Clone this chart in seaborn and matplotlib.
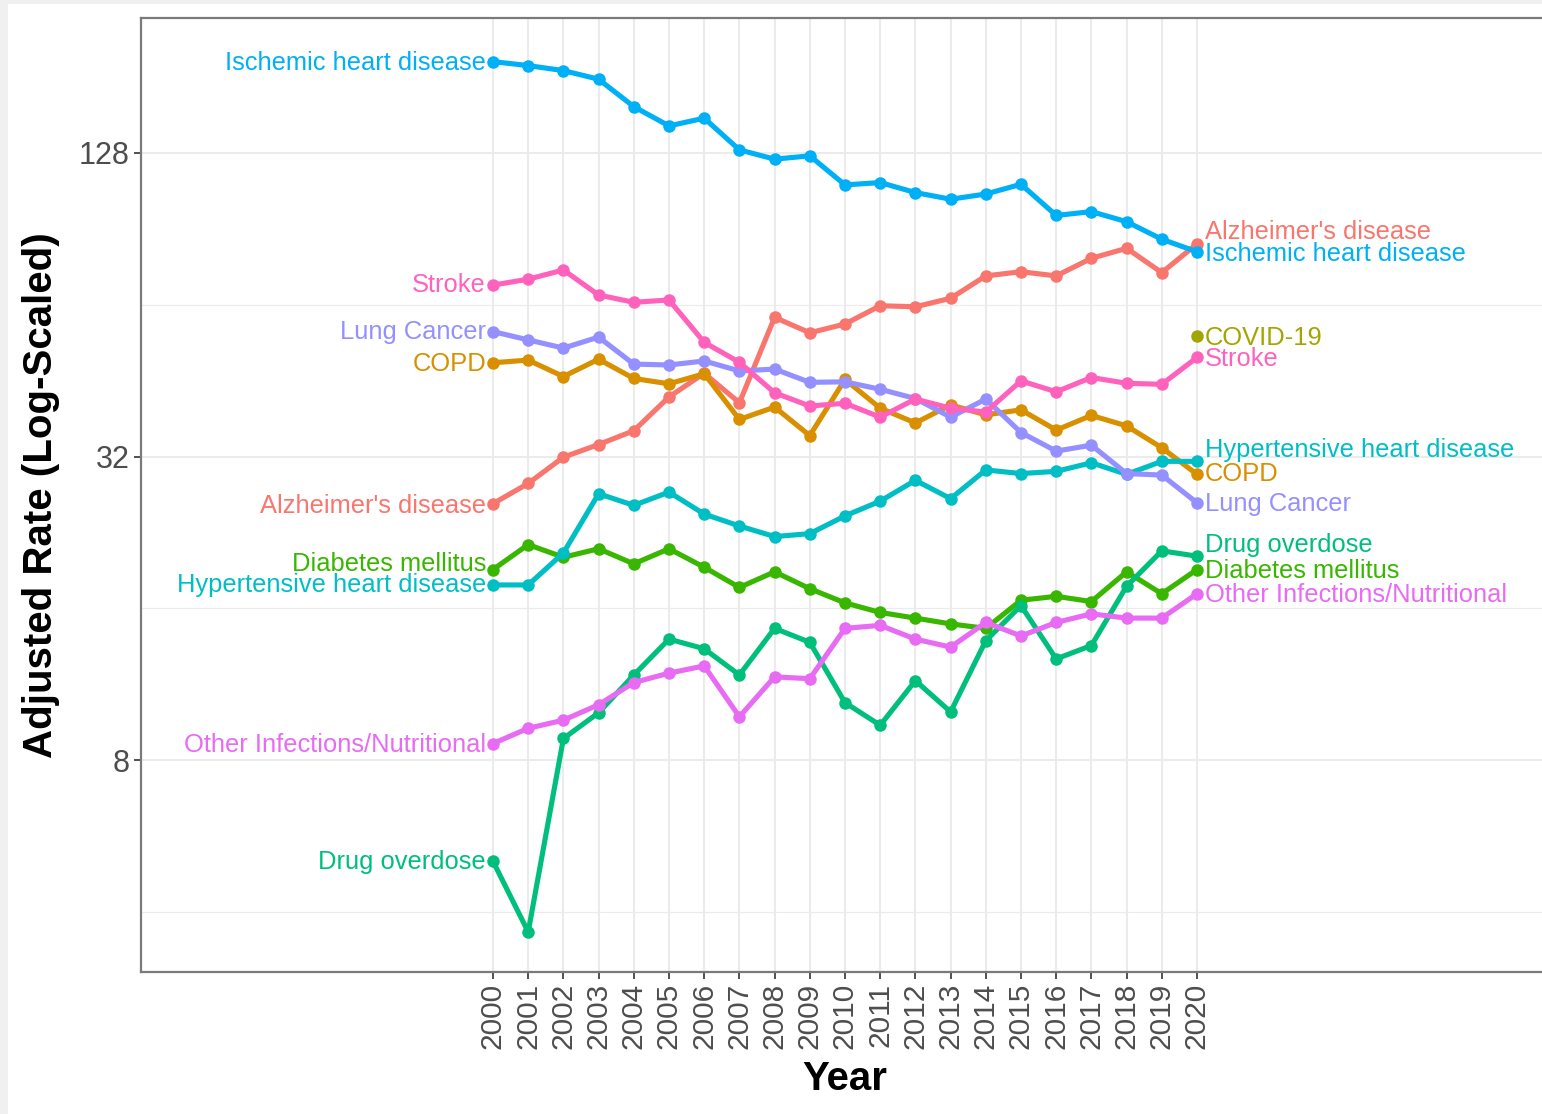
import numpy as np
import pandas as pd
import matplotlib
matplotlib.use("Agg")
import matplotlib.pyplot as plt
from matplotlib.patches import Rectangle
from matplotlib.ticker import FixedLocator, NullFormatter
import seaborn as sns

# 1) Data (age-adjusted rates read off the chart)
years = list(range(2000, 2021))

ischemic = [194.2, 190.7, 186.4, 179.2, 158.1, 144.8, 150.0, 129.8, 124.4, 126.3, 110.6,
            111.8, 106.8, 103.6, 106.1, 110.9, 96.2, 97.9, 93.5, 86.3, 81.5]
alzheimers = [25.8, 28.3, 31.9, 33.8, 36.0, 42.0, 46.8, 40.9, 60.4, 56.3, 58.6,
              63.7, 63.4, 65.9, 73.0, 74.4, 73.0, 79.1, 82.8, 74.1, 84.5]
stroke = [70.0, 71.9, 75.0, 66.9, 64.7, 65.4, 53.9, 49.2, 42.8, 40.3, 40.8,
          38.3, 41.6, 39.9, 39.2, 45.2, 43.0, 45.9, 44.7, 44.5, 50.3]
lung_cancer = [56.6, 54.5, 52.5, 55.2, 48.8, 48.6, 49.5, 47.3, 47.7, 44.9, 45.0,
               43.5, 41.7, 38.3, 41.6, 35.7, 32.8, 33.7, 29.6, 29.4, 25.9]
copd = [49.1, 49.7, 46.1, 49.9, 45.7, 44.6, 46.7, 37.9, 40.1, 35.2, 45.5,
        39.9, 37.3, 40.5, 38.7, 39.6, 36.1, 38.6, 36.8, 33.3, 29.5]
hypertensive = [17.8, 17.8, 20.6, 27.0, 25.6, 27.2, 24.6, 23.3, 22.2, 22.5, 24.4,
                26.1, 28.7, 26.4, 30.1, 29.6, 29.9, 31.1, 29.5, 31.3, 31.3]
diabetes = [19.1, 21.4, 20.2, 21.0, 19.6, 21.0, 19.3, 17.6, 18.9, 17.5, 16.4,
            15.7, 15.3, 14.9, 14.6, 16.6, 16.9, 16.5, 18.9, 17.1, 19.1]
drug_overdose = [5.04, 3.65, 8.83, 9.93, 11.8, 13.9, 13.3, 11.8, 14.6, 13.7, 10.4,
                 9.38, 11.5, 9.97, 13.8, 16.2, 12.7, 13.5, 17.7, 20.8, 20.3]
other_infections = [8.63, 9.25, 9.60, 10.3, 11.4, 11.9, 12.3, 9.75, 11.7, 11.6, 14.6,
                    14.8, 13.9, 13.4, 15.0, 14.1, 15.0, 15.6, 15.3, 15.3, 17.1]
covid_years = [2020]
covid = [55.5]

series = {
    "Alzheimer's disease": alzheimers,
    "COPD": copd,
    "Diabetes mellitus": diabetes,
    "Drug overdose": drug_overdose,
    "Hypertensive heart disease": hypertensive,
    "Ischemic heart disease": ischemic,
    "Lung Cancer": lung_cancer,
    "Other Infections/Nutritional": other_infections,
    "Stroke": stroke,
}

rows = []
for cause, vals in series.items():
    for yr, v in zip(years, vals):
        rows.append((cause, yr, v))
for yr, v in zip(covid_years, covid):
    rows.append(("COVID-19", yr, v))
df = pd.DataFrame(rows, columns=["Cause", "Year", "Rate"])

# ggplot default hue palette (10 levels)
colors = {
    "Alzheimer's disease": "#F8766D",
    "COPD": "#D89000",
    "COVID-19": "#A3A500",
    "Diabetes mellitus": "#39B600",
    "Drug overdose": "#00BF7D",
    "Hypertensive heart disease": "#00BFC4",
    "Ischemic heart disease": "#00B0F6",
    "Lung Cancer": "#9590FF",
    "Other Infections/Nutritional": "#E76BF3",
    "Stroke": "#FF62BC",
}

# label nudges in pixels (up positive) to avoid overlaps
left_nudge = {"Ischemic heart disease": -1, "Stroke": 0, "Lung Cancer": 0, "COPD": -1,
              "Alzheimer's disease": -2, "Diabetes mellitus": 6,
              "Hypertensive heart disease": 0, "Other Infections/Nutritional": -1,
              "Drug overdose": -1}
right_nudge = {"Alzheimer's disease": 12, "Ischemic heart disease": -2, "COVID-19": -2,
               "Stroke": -2, "Hypertensive heart disease": 11, "COPD": 0,
               "Lung Cancer": -1, "Drug overdose": 11, "Diabetes mellitus": -1,
               "Other Infections/Nutritional": -1}

# 2) Style
sns.set_style("white")
plt.rcParams["font.family"] = ["Liberation Sans", "DejaVu Sans"]

W, H = 1542, 1114
fig = plt.figure(figsize=(W / 100, H / 100), dpi=100, facecolor="#F0F0F0")
fig.add_artist(Rectangle((8 / W, 0), 1, 1 - 4 / H, transform=fig.transFigure,
                         facecolor="white", edgecolor="none", zorder=-1))

x0, x1 = 1990, 2030
px_per_year = 35.2
ax_left, ax_top, ax_bot = 141, 18, 972
ax_w = (x1 - x0) * px_per_year
ax = fig.add_axes([ax_left / W, 1 - ax_bot / H, ax_w / W, (ax_bot - ax_top) / H])
ax.set_facecolor("white")

sns.lineplot(data=df, x="Year", y="Rate", hue="Cause", palette=colors,
             marker="o", markersize=9, markeredgewidth=0, linewidth=3.7,
             legend=False, ax=ax, estimator=None)

ax.set_yscale("log", base=2)
ax.set_xlim(x0, x1)
ax.set_ylim(3.04, 237)

ax.yaxis.set_major_locator(FixedLocator([8, 32, 128]))
ax.set_yticklabels(["8", "32", "128"])
ax.yaxis.set_minor_locator(FixedLocator([4, 16, 64]))
ax.yaxis.set_minor_formatter(NullFormatter())
ax.set_xticks(years)
ax.set_xticklabels([str(y) for y in years], rotation=90)

ax.tick_params(axis="y", which="major", labelsize=22, labelcolor="#4D4D4D",
               length=5, width=1.2, color="#333333", pad=3, left=True)
ax.tick_params(axis="x", which="major", labelsize=21.5, labelcolor="#4D4D4D",
               length=5, width=1.2, color="#333333", pad=3, bottom=True)
ax.tick_params(which="minor", length=0)

ax.set_axisbelow(True)
ax.grid(True, which="major", color="#EBEBEB", linewidth=1.5)
ax.grid(True, which="minor", axis="y", color="#EBEBEB", linewidth=0.8)

for sp in ax.spines.values():
    sp.set_color("#7A7A7A")
    sp.set_linewidth(1.6)

ax.set_xlabel("Year", fontsize=29, fontweight="bold", color="black")
ax.xaxis.set_label_coords(0.5, -0.092)
ax.set_ylabel("Adjusted Rate (Log-Scaled)", fontsize=29, fontweight="bold",
              color="black")
ax.yaxis.set_label_coords(-0.0575, 0.5)

# 3) End labels
label_size = 18.4
for cause, vals in series.items():
    ax.annotate(cause, xy=(years[0], vals[0]), xytext=(-7, left_nudge[cause]),
                textcoords="offset pixels", ha="right", va="center",
                fontsize=label_size, color=colors[cause])
for cause, vals in list(series.items()) + [("COVID-19", covid)]:
    ax.annotate(cause, xy=(years[-1], vals[-1]), xytext=(8, right_nudge[cause]),
                textcoords="offset pixels", ha="left", va="center",
                fontsize=label_size, color=colors[cause])

fig.savefig("out.png", dpi=100, facecolor=fig.get_facecolor())
